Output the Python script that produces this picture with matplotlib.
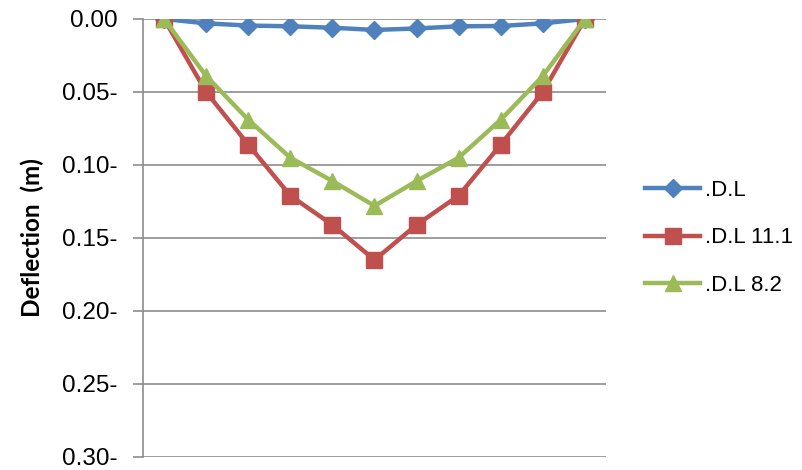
import numpy as np
import matplotlib.pyplot as plt

# deflection along the span (m), 11 stations
stations = list(range(1, 12))
dl_base = [0, 0.003, 0.0045, 0.005, 0.006, 0.0075, 0.0065, 0.005, 0.0048, 0.003, 0]
dl_111 = [0, 0.050, 0.086, 0.121, 0.141, 0.165, 0.141, 0.121, 0.086, 0.050, 0]
dl_82 = [0, 0.039, 0.069, 0.095, 0.111, 0.128, 0.111, 0.095, 0.069, 0.039, 0]

y_ticks = [0.00, 0.05, 0.10, 0.15, 0.20, 0.25, 0.30]
y_tick_labels = ["0.00", "0.05-", "0.10-", "0.15-", "0.20-", "0.25-", "0.30-"]
series_labels = [".D.L", ".D.L 11.1", ".D.L 8.2"]

fig = plt.figure(figsize=(8.02, 4.70), dpi=100)
ax = fig.add_axes([0.1783, 0.0277, 0.5773, 0.9319])

x = np.arange(len(stations))
ax.plot(x, dl_base, color="#4F81BD", lw=3.2, marker="D", ms=9.5,
        label=series_labels[0], zorder=3)
ax.plot(x, dl_111, color="#C0504D", lw=3.2, marker="s", ms=11,
        label=series_labels[1], zorder=3)
ax.plot(x, dl_82, color="#9BBB59", lw=3.2, marker="^", ms=12,
        label=series_labels[2], zorder=4)

ax.set_xlim(-0.5, len(stations) - 0.5)
ax.set_ylim(0.30, 0.0)
ax.set_yticks(y_ticks)
ax.set_yticklabels(y_tick_labels, fontsize=17.5, family="Liberation Sans")
ax.set_xticks([])
ax.grid(axis="y", color="#8c8c8c", lw=1.2)
ax.set_axisbelow(True)
ax.tick_params(axis="y", length=7, width=1.2, color="#8c8c8c", pad=11)
for side in ["top", "right", "bottom"]:
    ax.spines[side].set_visible(False)
ax.spines["left"].set_color("#8c8c8c")
ax.spines["left"].set_linewidth(1.2)

ax.set_ylabel("Deflection  (m)", fontsize=17.5, fontweight="bold",
              family="Lato", labelpad=13)

ax.legend(loc="center left", bbox_to_anchor=(1.042, 0.5), frameon=False,
          prop={"family": "Liberation Sans", "size": 16},
          handlelength=2.45, handletextpad=0.25, labelspacing=1.2)

fig.savefig("out.png", dpi=100)
